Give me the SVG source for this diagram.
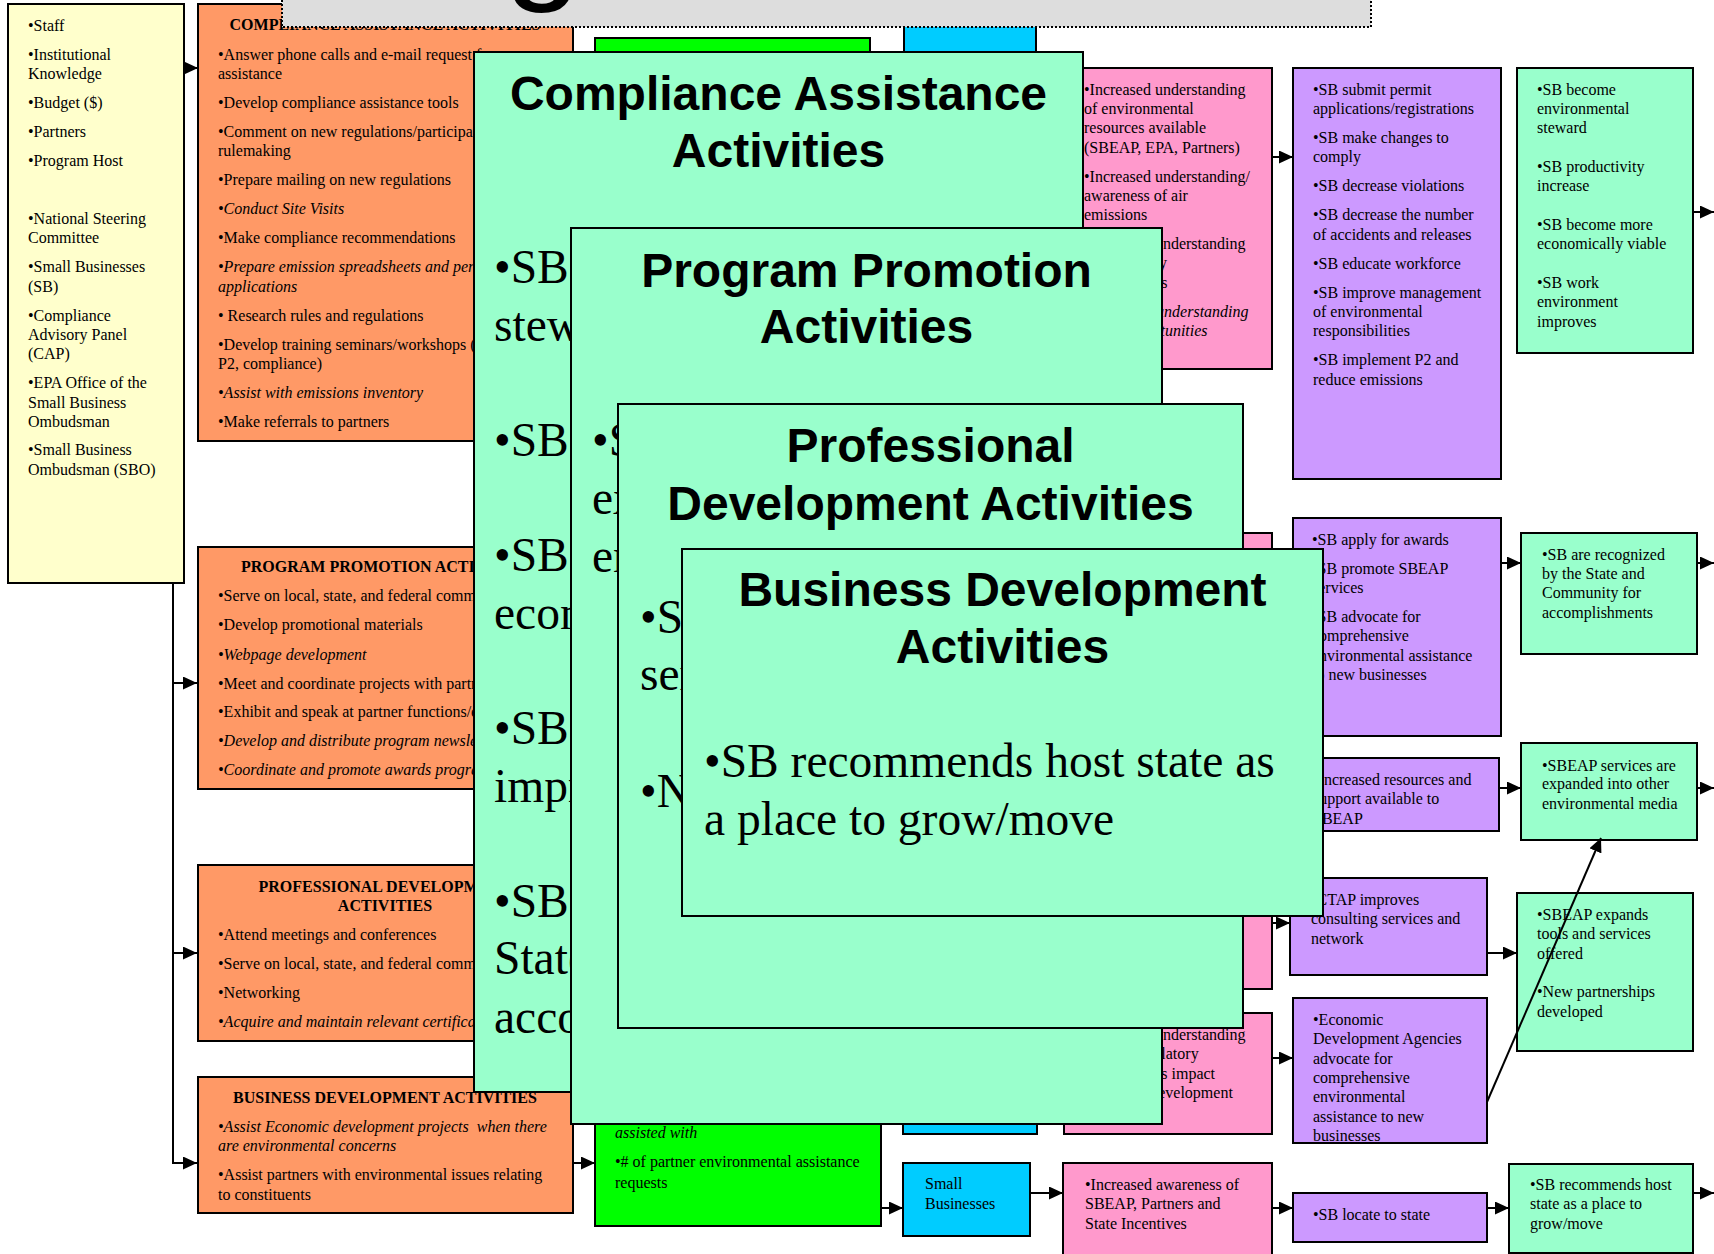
<svg xmlns="http://www.w3.org/2000/svg" width="1714" height="1254" viewBox="0 0 1714 1254">
<defs>
<style>
.b{stroke:#000;stroke-width:2}
.yel{fill:#FFFFCC}.org{fill:#FF9966}.grn{fill:#00FF00}.cyn{fill:#00CCFF}.pnk{fill:#FF99CC}.pur{fill:#CC99FF}.mnt{fill:#99FFCC}
.t{font-family:"Liberation Serif","Times New Roman",serif;font-size:16px;fill:#000}
.i{font-style:italic}
.h{font-family:"Liberation Serif","Times New Roman",serif;font-size:16px;font-weight:bold;text-anchor:middle;fill:#000}
.big{font-family:"Liberation Serif","Times New Roman",serif;font-size:47.5px;fill:#000}
.ttl{font-family:"Liberation Sans",Arial,sans-serif;font-size:48px;font-weight:bold;text-anchor:middle;fill:#000}
.c{fill:none;stroke:#000;stroke-width:2;marker-end:url(#ah)}
</style>
<marker id="ah" markerUnits="userSpaceOnUse" markerWidth="14" markerHeight="13" viewBox="0 0 14 13" refX="14" refY="6.5" orient="auto"><path d="M0,0 L14,6.5 L0,13 Z" fill="#000"/></marker>
</defs>
<rect width="1714" height="1254" fill="#fff"/>

<g id="inputs">
<rect class="b yel" x="8" y="4" width="176" height="579"/>
<text class="t"><tspan x="28" y="31">•Staff</tspan><tspan x="28" y="60">•Institutional</tspan><tspan x="28" y="79">Knowledge</tspan><tspan x="28" y="108">•Budget ($)</tspan><tspan x="28" y="137">•Partners</tspan><tspan x="28" y="166">•Program Host</tspan><tspan x="28" y="224">•National Steering</tspan><tspan x="28" y="243">Committee</tspan><tspan x="28" y="272">•Small Businesses</tspan><tspan x="28" y="292">(SB)</tspan><tspan x="28" y="321">•Compliance</tspan><tspan x="28" y="340">Advisory Panel</tspan><tspan x="28" y="359">(CAP)</tspan><tspan x="28" y="388">•EPA Office of the</tspan><tspan x="28" y="408">Small Business</tspan><tspan x="28" y="427">Ombudsman</tspan><tspan x="28" y="455">•Small Business</tspan><tspan x="28" y="475">Ombudsman (SBO)</tspan></text>
</g>

<g id="act-compliance">
<rect class="b org" x="198" y="4" width="375" height="437"/>
<text class="h" x="385" y="30">COMPLIANCE ASSISTANCE ACTIVITIES</text>
<text class="t"><tspan x="218" y="60">•Answer phone calls and e-mail request for</tspan><tspan x="218" y="79">assistance</tspan><tspan x="218" y="108">•Develop compliance assistance tools</tspan><tspan x="218" y="137">•Comment on new regulations/participate in</tspan><tspan x="218" y="156">rulemaking</tspan><tspan x="218" y="185">•Prepare mailing on new regulations</tspan><tspan x="218" y="214" class="i">•Conduct Site Visits</tspan><tspan x="218" y="243">•Make compliance recommendations</tspan><tspan x="218" y="272" class="i">•Prepare emission spreadsheets and permit</tspan><tspan x="218" y="292" class="i">applications</tspan><tspan x="218" y="321">• Research rules and regulations</tspan><tspan x="218" y="350">•Develop training seminars/workshops (air,</tspan><tspan x="218" y="369">P2, compliance)</tspan><tspan x="218" y="398" class="i">•Assist with emissions inventory</tspan><tspan x="218" y="427">•Make referrals to partners</tspan></text>
</g>

<g id="act-promotion">
<rect class="b org" x="198" y="547" width="375" height="242"/>
<text class="h" x="385" y="572">PROGRAM PROMOTION ACTIVITIES</text>
<text class="t"><tspan x="218" y="601">•Serve on local, state, and federal committees</tspan><tspan x="218" y="630">•Develop promotional materials</tspan><tspan x="218" y="660" class="i">•Webpage development</tspan><tspan x="218" y="689">•Meet and coordinate projects with partners</tspan><tspan x="218" y="717">•Exhibit and speak at partner functions/events</tspan><tspan x="218" y="746" class="i">•Develop and distribute program newsletter</tspan><tspan x="218" y="775" class="i">•Coordinate and promote awards program</tspan></text>
</g>

<g id="act-professional">
<rect class="b org" x="198" y="865" width="375" height="176"/>
<text class="h"><tspan x="385" y="892">PROFESSIONAL DEVELOPMENT</tspan><tspan x="385" y="911">ACTIVITIES</tspan></text>
<text class="t"><tspan x="218" y="940">•Attend meetings and conferences</tspan><tspan x="218" y="969">•Serve on local, state, and federal committees</tspan><tspan x="218" y="998">•Networking</tspan><tspan x="218" y="1027" class="i">•Acquire and maintain relevant certifications</tspan></text>
</g>

<g id="act-business">
<rect class="b org" x="198" y="1077" width="375" height="136"/>
<text class="h" x="385" y="1103">BUSINESS DEVELOPMENT ACTIVITIES</text>
<text class="t"><tspan x="218" y="1132" class="i" style="white-space:pre">•Assist Economic development projects  when there</tspan><tspan x="218" y="1151" class="i">are environmental concerns</tspan><tspan x="218" y="1180">•Assist partners with environmental issues relating</tspan><tspan x="218" y="1200">to constituents</tspan></text>
</g>

<g id="output-top"><rect class="b grn" x="595" y="38" width="275" height="400"/></g>
<g id="output-bottom">
<rect class="b grn" x="595" y="1000" width="286" height="226"/>
<text class="t"><tspan x="615" y="1138" class="i">assisted with</tspan><tspan x="615" y="1167">•# of partner environmental assistance</tspan><tspan x="615" y="1188">requests</tspan></text>
</g>

<g id="audience-top"><rect class="b cyn" x="904" y="10" width="132" height="400"/></g>
<g id="audience-mid"><rect class="b cyn" x="903" y="800" width="134" height="334"/></g>
<g id="audience-sb">
<rect class="b cyn" x="903" y="1163" width="127" height="73"/>
<text class="t"><tspan x="925" y="1189">Small</tspan><tspan x="925" y="1209">Businesses</tspan></text>
</g>

<g id="short-compliance">
<rect class="b pnk" x="1064" y="68" width="208" height="301"/>
<text class="t"><tspan x="1084" y="95">•Increased understanding</tspan><tspan x="1084" y="114">of environmental</tspan><tspan x="1084" y="133">resources available</tspan><tspan x="1084" y="153">(SBEAP, EPA, Partners)</tspan><tspan x="1084" y="182">•Increased understanding/</tspan><tspan x="1084" y="201">awareness of air</tspan><tspan x="1084" y="220">emissions</tspan><tspan x="1084" y="249">•Increased understanding</tspan><tspan x="1084" y="268">of regulatory</tspan><tspan x="1084" y="288">requirements</tspan><tspan x="1084" y="317" class="i">•Increased understanding</tspan><tspan x="1084" y="336" class="i">of P2 opportunities</tspan></text>
</g>
<g id="short-promotion"><rect class="b pnk" x="1064" y="533" width="208" height="227"/></g>
<g id="short-professional"><rect class="b pnk" x="1064" y="860" width="208" height="129"/></g>
<g id="short-business">
<rect class="b pnk" x="1064" y="1013" width="208" height="121"/>
<text class="t"><tspan x="1084" y="1040">•Increased understanding</tspan><tspan x="1084" y="1059">of how regulatory</tspan><tspan x="1084" y="1079">requirements impact</tspan><tspan x="1084" y="1098">economic development</tspan></text>
</g>
<g id="short-awareness">
<rect class="b pnk" x="1063" y="1163" width="209" height="100"/>
<text class="t"><tspan x="1085" y="1190">•Increased awareness of</tspan><tspan x="1085" y="1209">SBEAP, Partners and</tspan><tspan x="1085" y="1229">State Incentives</tspan></text>
</g>

<g id="mid-compliance">
<rect class="b pur" x="1293" y="68" width="208" height="411"/>
<text class="t"><tspan x="1313" y="95">•SB submit permit</tspan><tspan x="1313" y="114">applications/registrations</tspan><tspan x="1313" y="143">•SB make changes to</tspan><tspan x="1313" y="162">comply</tspan><tspan x="1313" y="191">•SB decrease violations</tspan><tspan x="1313" y="220">•SB decrease the number</tspan><tspan x="1313" y="240">of accidents and releases</tspan><tspan x="1313" y="269">•SB educate workforce</tspan><tspan x="1313" y="298">•SB improve management</tspan><tspan x="1313" y="317">of environmental</tspan><tspan x="1313" y="336">responsibilities</tspan><tspan x="1313" y="365">•SB implement P2 and</tspan><tspan x="1313" y="385">reduce emissions</tspan></text>
</g>
<g id="mid-awards">
<rect class="b pur" x="1293" y="518" width="208" height="218"/>
<text class="t"><tspan x="1312" y="545">•SB apply for awards</tspan><tspan x="1312" y="574">•SB promote SBEAP</tspan><tspan x="1312" y="593">services</tspan><tspan x="1312" y="622">•SB advocate for</tspan><tspan x="1312" y="641">comprehensive</tspan><tspan x="1312" y="661">environmental assistance</tspan><tspan x="1312" y="680">to new businesses</tspan></text>
</g>
<g id="mid-resources">
<rect class="b pur" x="1293" y="758" width="206" height="73"/>
<text class="t"><tspan x="1313" y="785">•Increased resources and</tspan><tspan x="1313" y="804">support available to</tspan><tspan x="1313" y="824">SBEAP</tspan></text>
</g>
<g id="mid-ctap">
<rect class="b pur" x="1290" y="878" width="197" height="97"/>
<text class="t"><tspan x="1311" y="905">•CTAP improves</tspan><tspan x="1311" y="924">consulting services and</tspan><tspan x="1311" y="944">network</tspan></text>
</g>
<g id="mid-econ">
<rect class="b pur" x="1293" y="998" width="194" height="145"/>
<text class="t"><tspan x="1313" y="1025">•Economic</tspan><tspan x="1313" y="1044">Development Agencies</tspan><tspan x="1313" y="1064">advocate for</tspan><tspan x="1313" y="1083">comprehensive</tspan><tspan x="1313" y="1102">environmental</tspan><tspan x="1313" y="1122">assistance to new</tspan><tspan x="1313" y="1141">businesses</tspan></text>
</g>
<g id="mid-locate">
<rect class="b pur" x="1293" y="1193" width="194" height="49"/>
<text class="t" x="1313" y="1220">•SB locate to state</text>
</g>

<g id="long-compliance">
<rect class="b mnt" x="1517" y="68" width="176" height="285"/>
<text class="t"><tspan x="1537" y="95">•SB become</tspan><tspan x="1537" y="114">environmental</tspan><tspan x="1537" y="133">steward</tspan><tspan x="1537" y="172">•SB productivity</tspan><tspan x="1537" y="191">increase</tspan><tspan x="1537" y="230">•SB become more</tspan><tspan x="1537" y="249">economically viable</tspan><tspan x="1537" y="288">•SB work</tspan><tspan x="1537" y="307">environment</tspan><tspan x="1537" y="327">improves</tspan></text>
</g>
<g id="long-recognized">
<rect class="b mnt" x="1521" y="533" width="176" height="121"/>
<text class="t"><tspan x="1542" y="560">•SB are recognized</tspan><tspan x="1542" y="579">by the State and</tspan><tspan x="1542" y="598">Community for</tspan><tspan x="1542" y="618">accomplishments</tspan></text>
</g>
<g id="long-media">
<rect class="b mnt" x="1521" y="743" width="176" height="97"/>
<text class="t"><tspan x="1542" y="771">•SBEAP services are</tspan><tspan x="1542" y="789">expanded into other</tspan><tspan x="1542" y="809">environmental media</tspan></text>
</g>
<g id="long-tools">
<rect class="b mnt" x="1517" y="893" width="176" height="158"/>
<text class="t"><tspan x="1537" y="920">•SBEAP expands</tspan><tspan x="1537" y="939">tools and services</tspan><tspan x="1537" y="959">offered</tspan><tspan x="1537" y="997">•New partnerships</tspan><tspan x="1537" y="1017">developed</tspan></text>
</g>
<g id="long-recommend">
<rect class="b mnt" x="1509" y="1164" width="184" height="89"/>
<text class="t"><tspan x="1530" y="1190">•SB recommends host</tspan><tspan x="1530" y="1209">state as a place to</tspan><tspan x="1530" y="1229">grow/move</tspan></text>
</g>

<g id="connectors">
<path class="c" d="M184,68 H198"/>
<path class="c" d="M173,583 V1163 H197"/>
<path class="c" d="M173,683 H197"/>
<path class="c" d="M173,953 H197"/>
<path class="c" d="M573,1163 H595"/>
<path class="c" d="M881,1208 H903"/>
<path class="c" d="M1030,1193 H1063"/>
<path class="c" d="M1272,1208 H1293"/>
<path class="c" d="M1487,1208 H1509"/>
<path class="c" d="M1693,1193 H1714"/>
<path class="c" d="M1272,1058 H1293"/>
<path class="c" d="M1487,1102 L1601,838"/>
<path class="c" d="M1272,923 H1290"/>
<path class="c" d="M1487,953 H1517"/>
<path class="c" d="M1499,788 H1521"/>
<path class="c" d="M1697,788 H1714"/>
<path class="c" d="M1501,563 H1521"/>
<path class="c" d="M1697,563 H1714"/>
<path class="c" d="M1272,157 H1293"/>
<path class="c" d="M1693,212 H1714"/>
</g>

<g id="card-compliance">
<rect class="b mnt" x="474" y="52" width="609" height="1040"/>
<text class="ttl"><tspan x="778.5" y="110">Compliance Assistance</tspan><tspan x="778.5" y="167">Activities</tspan></text>
<text class="big"><tspan x="494" y="283">•SB become environmental</tspan><tspan x="494" y="341">steward</tspan><tspan x="494" y="456">•SB productivity increase</tspan><tspan x="494" y="571">•SB become more</tspan><tspan x="494" y="629">economically viable</tspan><tspan x="494" y="744">•SB work environment</tspan><tspan x="494" y="802">improves</tspan><tspan x="494" y="917">•SB are recognized by the</tspan><tspan x="494" y="974">State and Community for</tspan><tspan x="494" y="1033">accomplishments</tspan></text>
</g>
<g id="card-promotion">
<rect class="b mnt" x="571" y="228" width="591" height="896"/>
<text class="ttl"><tspan x="866.5" y="287">Program Promotion</tspan><tspan x="866.5" y="343">Activities</tspan></text>
<text class="big"><tspan x="592" y="456">•SBEAP services are</tspan><tspan x="592" y="514">expanded into other</tspan><tspan x="592" y="572">environmental media</tspan></text>
</g>
<g id="card-professional">
<rect class="b mnt" x="618" y="404" width="625" height="624"/>
<text class="ttl"><tspan x="930.5" y="462">Professional</tspan><tspan x="930.5" y="520">Development Activities</tspan></text>
<text class="big"><tspan x="640" y="633">•SBEAP expands tools and</tspan><tspan x="640" y="690">services offered</tspan><tspan x="640" y="807">•New partnerships developed</tspan></text>
</g>
<g id="card-business">
<rect class="b mnt" x="682" y="549" width="641" height="367"/>
<text class="ttl"><tspan x="1002.5" y="606">Business Development</tspan><tspan x="1002.5" y="663">Activities</tspan></text>
<text class="big"><tspan x="704" y="777">•SB recommends host state as</tspan><tspan x="704" y="835">a place to grow/move</tspan></text>
</g>

<g id="title">
<rect x="282" y="-10" width="1089" height="37" fill="#DDDDDD" stroke="#000" stroke-width="2" stroke-dasharray="2,2"/>
<text x="504" y="-16" font-family="Liberation Sans, Arial, sans-serif" font-size="140">g</text>
</g>
</svg>
